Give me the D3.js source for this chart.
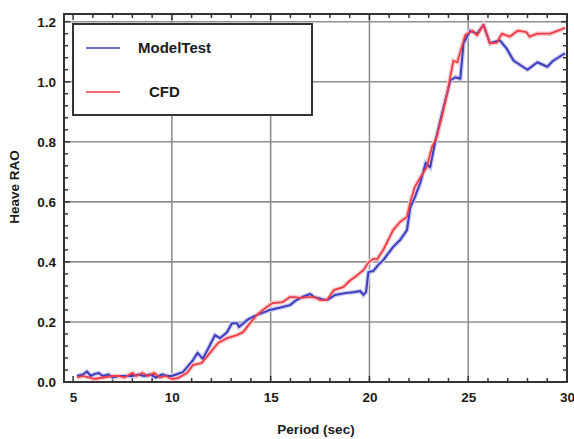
<!DOCTYPE html>
<html><head><meta charset="utf-8">
<script src="https://cdn.jsdelivr.net/npm/d3@7"></script>
<style>body{margin:0;background:#fff}svg{display:block}text{font-family:"Liberation Sans",Arial,sans-serif;font-weight:bold;fill:#1a1a1a}</style>
</head><body><svg id="c" width="574" height="439"></svg>
<script>
const seriesNames = ["ModelTest", "CFD"];
const xTicks = [5, 10, 15, 20, 25, 30];
const yTicks = [0.0, 0.2, 0.4, 0.6, 0.8, 1.0, 1.2];
const modelPeriod = [5.2,5.5,5.7,5.9,6.1,6.3,6.5,6.8,7.0,7.3,7.6,8.0,8.3,8.6,8.9,9.2,9.5,9.8,10.0,10.56,11.07,11.3,11.57,11.93,12.18,12.44,12.79,13.04,13.3,13.4,13.8,14.2,14.96,15.5,15.98,16.3,16.6,17.0,17.2,17.6,17.85,18.26,18.77,19.27,19.53,19.7,19.83,19.95,20.2,20.45,20.7,21.2,21.55,21.9,22.06,22.3,22.57,22.85,23.07,23.33,23.68,24.1,24.35,24.6,24.76,25.1,25.45,25.77,26.1,26.6,26.95,27.3,28.0,28.5,29.0,29.3,29.9];
const modelRAO = [0.02,0.025,0.035,0.02,0.027,0.03,0.02,0.025,0.015,0.02,0.02,0.02,0.025,0.02,0.025,0.015,0.025,0.02,0.02,0.033,0.073,0.097,0.077,0.123,0.156,0.146,0.166,0.196,0.196,0.183,0.206,0.22,0.24,0.248,0.256,0.273,0.283,0.293,0.283,0.276,0.273,0.29,0.296,0.3,0.303,0.29,0.3,0.366,0.37,0.39,0.406,0.45,0.473,0.506,0.58,0.616,0.663,0.73,0.715,0.8,0.896,1.005,1.015,1.01,1.128,1.17,1.16,1.19,1.128,1.138,1.11,1.07,1.04,1.065,1.05,1.07,1.095];
const cfdPeriod = [5.2,5.5,5.8,6.1,6.5,7.0,7.3,7.6,8.0,8.2,8.5,8.8,9.1,9.4,9.7,10.0,10.3,10.76,11.07,11.5,11.93,12.34,12.79,13.3,13.6,13.96,14.3,14.8,15.1,15.6,15.98,16.2,16.5,16.84,17.2,17.5,17.85,18.2,18.67,19.02,19.37,19.7,19.95,20.2,20.4,20.7,21.2,21.55,21.9,22.06,22.3,22.57,22.9,23.17,23.4,23.68,23.93,24.25,24.45,24.85,25.2,25.45,25.77,26.1,26.45,26.7,27.1,27.5,27.95,28.1,28.5,29.15,29.55,29.9];
const cfdRAO = [0.015,0.02,0.015,0.01,0.015,0.02,0.02,0.015,0.03,0.02,0.03,0.02,0.03,0.015,0.02,0.01,0.013,0.03,0.057,0.063,0.097,0.13,0.146,0.156,0.166,0.196,0.223,0.25,0.263,0.266,0.283,0.283,0.28,0.283,0.283,0.273,0.273,0.306,0.316,0.338,0.355,0.373,0.398,0.41,0.41,0.44,0.506,0.533,0.55,0.596,0.65,0.68,0.716,0.783,0.815,0.888,0.96,1.07,1.065,1.155,1.17,1.155,1.19,1.128,1.13,1.16,1.15,1.17,1.165,1.15,1.16,1.16,1.17,1.18];

const svg = d3.select("#c");
const L = 64, T = 14, R = 567, B = 382;
const x = d3.scaleLinear().domain([4.54, 30.0]).range([L, R]);
const y = d3.scaleLinear().domain([0, 1.2]).range([B, 21.7]);

// grid
const g = svg.append("g");
g.selectAll(".gx").data(xTicks.filter(v => v > 5 && v < 30)).join("line")
  .attr("x1", d => x(d)).attr("x2", d => x(d)).attr("y1", T).attr("y2", B)
  .attr("stroke", "#8f8f8f").attr("stroke-width", 1.6);
g.selectAll(".gy").data(yTicks.filter(v => v > 0)).join("line")
  .attr("x1", L).attr("x2", R).attr("y1", d => y(d)).attr("y2", d => y(d))
  .attr("stroke", "#8f8f8f").attr("stroke-width", 1.6);

// axes with inward ticks
const xMinor = d3.range(5, 30.01, 1);
const yMinor = d3.range(0, 1.2001, 0.04);
const axB = d3.axisBottom(x).tickValues(xTicks).tickFormat(d3.format("d")).tickSize(0).tickPadding(10);
const axL = d3.axisLeft(y).tickValues(yTicks).tickFormat(d3.format(".1f")).tickSize(0).tickPadding(8);
svg.append("g").attr("transform", `translate(0,${B})`).call(axB)
  .call(s => s.select(".domain").remove())
  .selectAll("text").attr("font-size", 13.5).attr("font-family", "Liberation Sans, Arial").attr("font-weight", "bold").attr("fill", "#1a1a1a");
svg.append("g").attr("transform", `translate(${L},0)`).call(axL)
  .call(s => s.select(".domain").remove())
  .selectAll("text").attr("font-size", 13.5).attr("font-family", "Liberation Sans, Arial").attr("font-weight", "bold").attr("fill", "#1a1a1a");

const tk = svg.append("g").attr("stroke", "#333").attr("stroke-width", 1.5);
xMinor.forEach(v => {
  const len = (v % 5 === 0) ? 6 : 4;
  tk.append("line").attr("x1", x(v)).attr("x2", x(v)).attr("y1", B).attr("y2", B - len);
  tk.append("line").attr("x1", x(v)).attr("x2", x(v)).attr("y1", T).attr("y2", T + len);
});
yMinor.forEach(v => {
  const major = Math.abs(v * 5 - Math.round(v * 5)) < 1e-6;
  const len = major ? 6 : 4;
  tk.append("line").attr("x1", L).attr("x2", L + len).attr("y1", y(v)).attr("y2", y(v));
  tk.append("line").attr("x1", R).attr("x2", R - len).attr("y1", y(v)).attr("y2", y(v));
});

// border
svg.append("rect").attr("x", L).attr("y", T).attr("width", R - L).attr("height", B - T)
  .attr("fill", "none").attr("stroke", "#333").attr("stroke-width", 2);

// lines
const line = d3.line().x(d => x(d[0])).y(d => y(d[1])).curve(d3.curveLinear);
const modelData = modelPeriod.map((p, i) => [p, modelRAO[i]]);
const cfdData = cfdPeriod.map((p, i) => [p, cfdRAO[i]]);
const lineG = svg.append("g");
lineG.append("path").datum(modelData).attr("d", line).attr("fill", "none")
  .attr("stroke", "#c8c8ee").attr("stroke-width", 4.5);
lineG.append("path").datum(cfdData).attr("d", line).attr("fill", "none")
  .attr("stroke", "#f8c8c8").attr("stroke-width", 4.5);
lineG.append("path").datum(modelData).attr("d", line).attr("fill", "none")
  .attr("stroke", "#3d3dc0").attr("stroke-width", 2).attr("stroke-linejoin", "round");
lineG.append("path").datum(cfdData).attr("d", line).attr("fill", "none")
  .attr("stroke", "#f03c48").attr("stroke-width", 1.8).attr("stroke-linejoin", "round");

// legend
const lg = svg.append("g");
lg.append("rect").attr("x", 73).attr("y", 24).attr("width", 239).attr("height", 91)
  .attr("fill", "#fff").attr("stroke", "#333").attr("stroke-width", 2);
const legColors = ["#7070d0", "#f06a70"];
seriesNames.forEach((n, i) => {
  const yy = 48 + i * 44;
  lg.append("line").attr("x1", 86).attr("x2", 120).attr("y1", yy).attr("y2", yy)
    .attr("stroke", legColors[i]).attr("stroke-width", 2.2);
  lg.append("text").attr("x", i === 0 ? 138 : 149).attr("y", yy + 5).attr("font-size", 15).text(n);
});

// axis titles
svg.append("text").attr("x", 316).attr("y", 434).attr("text-anchor", "middle").attr("font-size", 13.5).text("Period (sec)");
svg.append("text").attr("transform", "translate(19,187) rotate(-90)").attr("text-anchor", "middle").attr("font-size", 13.5).text("Heave RAO");
</script></body></html>
